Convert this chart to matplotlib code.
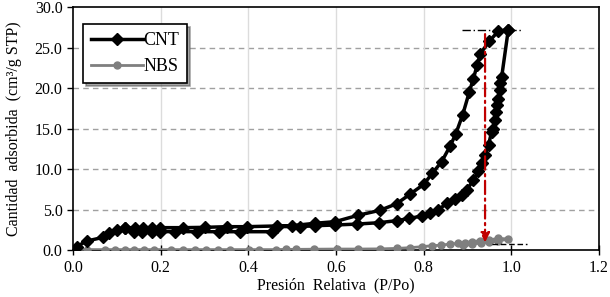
import matplotlib
matplotlib.use('Agg')
import matplotlib.pyplot as plt

# Isoterma CNT: rama de adsorcion (P/Po, cantidad)
cnt_ads_p = [0.008, 0.031, 0.069, 0.081, 0.100, 0.119, 0.138, 0.157, 0.180, 0.199,
             0.233, 0.282, 0.332, 0.381, 0.453, 0.465, 0.518, 0.552, 0.598, 0.647,
             0.697, 0.738, 0.767, 0.796, 0.815, 0.833, 0.854, 0.872, 0.887, 0.898,
             0.913, 0.925, 0.932, 0.940, 0.948, 0.955, 0.959, 0.963, 0.965, 0.968,
             0.970, 0.973, 0.974, 0.978, 0.993]
cnt_ads_v = [0.41, 1.10, 1.57, 2.06, 2.47, 2.76, 2.27, 2.27, 2.27, 2.27,
             2.27, 2.27, 2.26, 2.26, 2.26, 2.90, 2.88, 3.00, 3.09, 3.20,
             3.37, 3.62, 3.90, 4.20, 4.60, 5.00, 5.76, 6.30, 6.85, 7.40,
             8.60, 9.70, 10.7, 11.7, 13.0, 14.6, 15.0, 16.0, 17.1, 17.9,
             18.7, 19.7, 20.6, 21.4, 27.2]

# rama de desorcion
cnt_des_p = [0.993, 0.970, 0.950, 0.929, 0.922, 0.913, 0.904, 0.889, 0.873, 0.860,
             0.841, 0.820, 0.800, 0.769, 0.738, 0.700, 0.651, 0.598, 0.552, 0.499,
             0.465, 0.396, 0.351, 0.301, 0.252, 0.199, 0.180, 0.160, 0.141, 0.119]
cnt_des_v = [27.2, 27.0, 25.8, 24.2, 22.8, 21.1, 19.5, 16.7, 14.3, 12.8,
             10.9, 9.5, 8.1, 6.9, 5.7, 4.9, 4.3, 3.5, 3.3, 3.0,
             2.97, 2.88, 2.88, 2.80, 2.76, 2.76, 2.76, 2.76, 2.76, 2.76]

# NBS
nbs_p = [0.011, 0.033, 0.073, 0.096, 0.118, 0.140, 0.162, 0.184, 0.224, 0.251,
         0.278, 0.304, 0.331, 0.358, 0.402, 0.424, 0.464, 0.487, 0.509, 0.549,
         0.602, 0.651, 0.700, 0.738, 0.769, 0.796, 0.818, 0.840, 0.860, 0.879,
         0.894, 0.910, 0.929, 0.948, 0.970, 0.993,
         0.970, 0.950, 0.930, 0.910, 0.890]
nbs_v = [0.05, 0.05, 0.05, 0.05, 0.05, 0.05, 0.05, 0.05, 0.05, 0.05,
         0.05, 0.05, 0.05, 0.05, 0.05, 0.05, 0.05, 0.08, 0.08, 0.10,
         0.12, 0.12, 0.14, 0.20, 0.29, 0.41, 0.53, 0.60, 0.74, 0.82,
         0.90, 1.03, 1.15, 1.23, 1.44, 1.36,
         1.10, 0.95, 0.85, 0.75, 0.65]

p_marca = 0.94
v_max = 27.2
v_min = 0.7

plt.rcParams['font.family'] = ['Liberation Serif', 'DejaVu Serif']

fig = plt.figure(figsize=(6.10, 2.97), dpi=100)
ax = fig.add_axes([0.1197, 0.1582, 0.8623, 0.8182])

cnt_p = cnt_ads_p + cnt_des_p
cnt_v = cnt_ads_v + cnt_des_v
ax.plot(cnt_p, cnt_v, color='black', lw=2.5, marker='D', ms=5.8, label='CNT', zorder=4)
ax.plot(nbs_p, nbs_v, color='#7f7f7f', lw=2, marker='o', ms=5, label='NBS', zorder=3)

# lineas de referencia
ax.plot([0.888, 1.026], [v_max, v_max], color='black', lw=1, ls=(0, (6, 2, 1, 2)), zorder=5)
ax.plot([0.955, 1.035], [v_min, v_min], color='black', lw=1, ls=(0, (4, 2)), zorder=5)
ax.annotate('', xy=(p_marca, 0.6), xytext=(p_marca, 27.0),
            arrowprops=dict(arrowstyle='-|>', color='#c00000', lw=1.6,
                            ls=(0, (6, 2, 1, 2)), mutation_scale=14),
            zorder=6)

ax.set_xlim(0, 1.2)
ax.set_ylim(0, 30)
ax.set_xticks([0, 0.2, 0.4, 0.6, 0.8, 1.0, 1.2])
ax.set_yticks([0, 5, 10, 15, 20, 25, 30])
ax.xaxis.set_major_formatter(matplotlib.ticker.FormatStrFormatter('%.1f'))
ax.yaxis.set_major_formatter(matplotlib.ticker.FormatStrFormatter('%.1f'))
ax.tick_params(axis='x', direction='inout', length=7, labelsize=11.5, width=1)
ax.tick_params(axis='y', direction='out', length=4, labelsize=11.5, width=1)

for v in [5, 10, 15, 20, 25]:
    ax.axhline(v, color='#a0a0a0', lw=1, ls=(0, (4, 3)), zorder=1)
for p in [0.2, 0.4, 0.6, 0.8, 1.0]:
    ax.axvline(p, color='#dcdcdc', lw=1, zorder=1)

for s in ax.spines.values():
    s.set_linewidth(1.2)

ax.set_xlabel('Presión  Relativa  (P/Po)', fontsize=11.5, labelpad=1)
ax.set_ylabel('Cantidad  adsorbida  (cm³/g STP)', fontsize=11.5, labelpad=9)

leg = ax.legend(loc='upper left', bbox_to_anchor=(0.019, 0.93), fontsize=13,
                frameon=True, fancybox=False, shadow=True, handlelength=2.9,
                borderpad=0.45, labelspacing=0.5, handletextpad=0.0,
                borderaxespad=0)
leg.get_frame().set_edgecolor('black')
leg.get_frame().set_linewidth(1.2)

fig.savefig('out.png', dpi=100)
